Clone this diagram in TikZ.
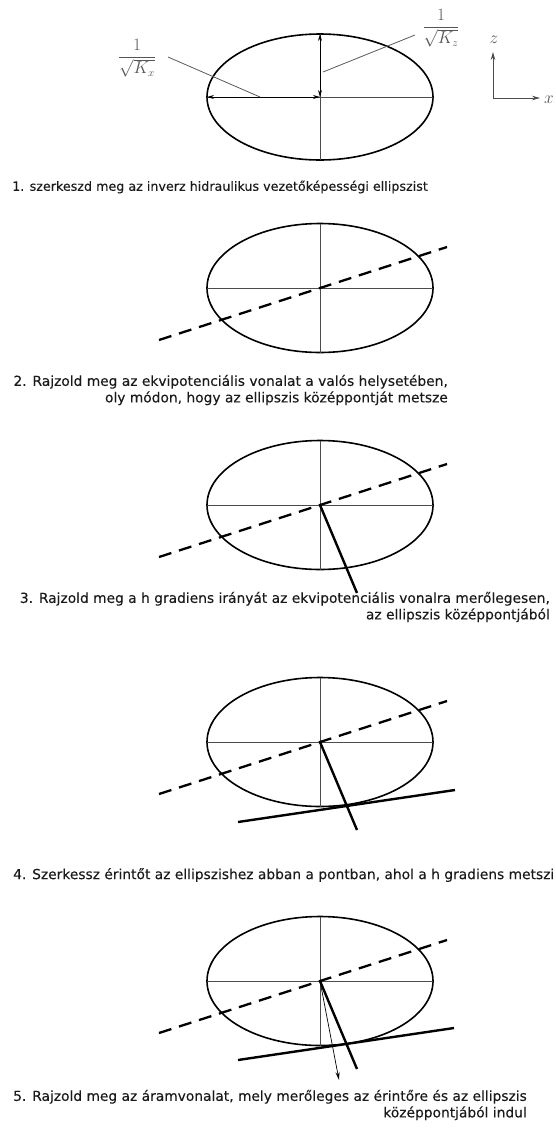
\documentclass[tikz,border=0pt]{standalone}
\usepackage{fontspec}
\setmainfont{DejaVu Sans}[FakeStretch=1.0,FakeBold=0.15]
\usetikzlibrary{arrows.meta}
\definecolor{txtc}{HTML}{1A1A1A}
\definecolor{labc}{HTML}{555555}
\begin{document}
\begin{tikzpicture}[x=1pt,y=-1pt,
  ell/.style={line width=1.6pt,draw=black},
  axl/.style={line width=0.7pt,draw=black!70},
  eqp/.style={line width=2.3pt,dash pattern=on 13pt off 8pt},
  gradl/.style={line width=2.4pt},
  tang/.style={line width=2.4pt},
  flowarr/.style={line width=0.7pt,-{Stealth[length=8pt,width=4pt]}},
  dimarr/.style={line width=0.8pt,{Stealth[length=7pt,width=4pt]}-{Stealth[length=7pt,width=4pt]}},
  leader/.style={line width=0.8pt,draw=black!65},
  axarr/.style={line width=0.8pt,draw=black!70,-{Stealth[length=8pt,width=4.5pt]}},
  txt/.style={inner sep=0pt,text=txtc,font=\fontsize{13.8}{16.5}\selectfont},
  lab/.style={inner sep=0pt,text=labc,font=\fontsize{16}{18}\selectfont}]
\useasboundingbox (0,0) rectangle (555,1133);

% ---------- panel 1 ----------
\coordinate (c1) at (320,97);
\draw[ell] (c1) ellipse [x radius=113pt, y radius=63pt];
\coordinate (l1) at (207,97); \coordinate (r1) at (433,97);
\coordinate (t1) at (320,34); \coordinate (b1) at (320,160);
\draw[axl] (l1) -- (r1);
\draw[axl] (t1) -- (b1);
\draw[dimarr] (l1) -- (c1);
\draw[dimarr] (c1) -- (t1);
\node[lab] (kx) at (137,58) {$\displaystyle\frac{1}{\sqrt{K_x}}$};
\node[lab] (kz) at (441,28) {$\displaystyle\frac{1}{\sqrt{K_z}}$};
\coordinate (kxs) at (168,57); \coordinate (kxe) at (260,97);
\coordinate (kzs) at (415,35); \coordinate (kze) at (323,72);
\draw[leader] (kxs) -- (kxe);
\draw[leader] (kzs) -- (kze);
% axes
\coordinate (o) at (493,98);
\coordinate (oz) at (493,52);
\coordinate (ox) at (540,98);
\draw[axarr] (o) -- (oz);
\draw[axarr] (o) -- (ox);
\node[inner sep=0pt,text=labc,font=\fontsize{16}{18}\selectfont] (zl) at (494,40) {$z$};
\node[inner sep=0pt,text=labc,font=\fontsize{16}{18}\selectfont] (xl) at (549,100) {$x$};

\node[txt,anchor=west,font=\fontsize{12.7}{16}\selectfont] (tx1) at (12,187) {1. szerkeszd meg az inverz hidraulikus vezetőképességi ellipszist};

% ---------- panel 2 ----------
\begin{scope}[shift={(320,288)}]
  \coordinate (c2) at (0,0);
  \draw[ell] (c2) ellipse [x radius=113pt, y radius=64.5pt];
  \coordinate (l2) at (-113,0); \coordinate (r2) at (113,0);
  \coordinate (u2) at (0,-64.5); \coordinate (d2) at (0,64.5);
  \draw[axl] (l2) -- (r2); \draw[axl] (u2) -- (d2);
  \coordinate (e2a) at (-161,52); \coordinate (e2b) at (127,-41);
  \draw[eqp] (e2a) -- (e2b);
\end{scope}
\node[txt,anchor=east,align=right] (tx2) at (448,390) {2. Rajzold meg az ekvipotenciális vonalat a valós helysetében,\\oly módon, hogy az ellipszis középpontját metsze};

% ---------- panel 3 ----------
\begin{scope}[shift={(320,505)}]
  \coordinate (c3) at (0,0);
  \draw[ell] (c3) ellipse [x radius=113pt, y radius=64.5pt];
  \coordinate (l3) at (-113,0); \coordinate (r3) at (113,0);
  \coordinate (u3) at (0,-64.5); \coordinate (d3) at (0,64.5);
  \draw[axl] (l3) -- (r3); \draw[axl] (u3) -- (d3);
  \coordinate (e3a) at (-161,52); \coordinate (e3b) at (127,-41);
  \draw[eqp] (e3a) -- (e3b);
  \coordinate (g3) at (37,88);
  \draw[gradl] (c3) -- (g3);
\end{scope}
\node[txt,anchor=east,align=right] (tx3) at (550,607) {3. Rajzold meg a h gradiens irányát az ekvipotenciális vonalra merőlegesen,\\az ellipszis középpontjából};

% ---------- panel 4 ----------
\begin{scope}[shift={(320,742)}]
  \coordinate (c4) at (0,0);
  \draw[ell] (c4) ellipse [x radius=113pt, y radius=64.5pt];
  \coordinate (l4) at (-113,0); \coordinate (r4) at (113,0);
  \coordinate (u4) at (0,-64.5); \coordinate (d4) at (0,64.5);
  \draw[axl] (l4) -- (r4); \draw[axl] (u4) -- (d4);
  \coordinate (e4a) at (-161,52); \coordinate (e4b) at (127,-41);
  \draw[eqp] (e4a) -- (e4b);
  \coordinate (g4) at (37,88);
  \draw[gradl] (c4) -- (g4);
  \coordinate (ta4) at (-82,80); \coordinate (tb4) at (135,48);
  \draw[tang] (ta4) -- (tb4);
\end{scope}
\node[txt,anchor=west] (tx4) at (13,875) {4. Szerkessz érintőt az ellipszishez abban a pontban, ahol a h gradiens metszi};

% ---------- panel 5 ----------
\begin{scope}[shift={(320,981)}]
  \coordinate (c5) at (0,0);
  \draw[ell] (c5) ellipse [x radius=113pt, y radius=64.5pt];
  \coordinate (l5) at (-113,0); \coordinate (r5) at (113,0);
  \coordinate (u5) at (0,-64.5); \coordinate (d5) at (0,64.5);
  \draw[axl] (l5) -- (r5); \draw[axl] (u5) -- (d5);
  \coordinate (e5a) at (-161,52); \coordinate (e5b) at (127,-41);
  \draw[eqp] (e5a) -- (e5b);
  \coordinate (g5) at (37,88);
  \draw[gradl] (c5) -- (g5);
  \coordinate (ta5) at (-82,79); \coordinate (tb5) at (134,47);
  \draw[tang] (ta5) -- (tb5);
  \coordinate (f5) at (19,99);
  \draw[flowarr] (c5) -- (f5);
\end{scope}
\node[txt,anchor=east,align=right] (tx5) at (527,1105) {5. Rajzold meg az áramvonalat, mely merőleges az érintőre és az ellipszis\\középpontjából indul};
\end{tikzpicture}
\end{document}
